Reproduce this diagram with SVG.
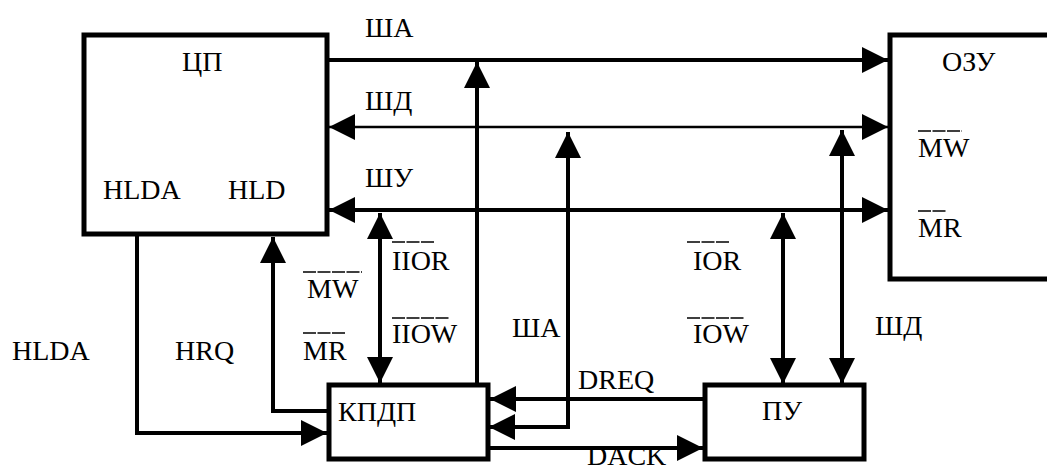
<svg xmlns="http://www.w3.org/2000/svg" width="1047" height="470" viewBox="0 0 1047 470">
<style>
.box{fill:#fff;stroke:#000;stroke-width:5}
.t{font-family:"Liberation Serif","Times New Roman",serif;font-size:28px;fill:#000}
.w{fill:none;stroke:#000;stroke-width:4}
.thin{fill:none;stroke:#000;stroke-width:2.5}
.ov{stroke:#000;stroke-width:1.5;stroke-dasharray:13 1.5}
</style>
<defs>
<marker id="ah" viewBox="0 0 26 26" refX="26" refY="13" markerWidth="26" markerHeight="26" markerUnits="userSpaceOnUse" orient="auto-start-reverse">
<path d="M0,0 L26,13 L0,26 Z" fill="#000"/>
</marker>
</defs>
<rect width="1047" height="470" fill="#fff"/>
<g id="connectors">
<path class="w" d="M329,60 H888" marker-end="url(#ah)"/>
<path class="thin" d="M329,127 H888" marker-start="url(#ah)" marker-end="url(#ah)"/>
<path class="w" d="M329,210 H888" marker-start="url(#ah)" marker-end="url(#ah)"/>
<path class="w" d="M477,385 V62" marker-end="url(#ah)"/>
<path class="w" d="M489,427 H568 V132" marker-start="url(#ah)" marker-end="url(#ah)"/>
<path class="w" d="M705,399 H490" marker-end="url(#ah)"/>
<path class="w" d="M488,448 H703" marker-end="url(#ah)"/>
<path class="w" d="M380,213 V383" marker-start="url(#ah)" marker-end="url(#ah)"/>
<path class="w" d="M783,213 V384" marker-start="url(#ah)" marker-end="url(#ah)"/>
<path class="w" d="M842,130 V384" marker-start="url(#ah)" marker-end="url(#ah)"/>
<path class="w" d="M137,236 V433 H327" marker-end="url(#ah)"/>
<path class="w" d="M329,411 H273 V237" marker-end="url(#ah)"/>
</g>
<g id="cpu">
<rect class="box" x="84" y="35" width="243" height="199"/>
<text class="t" x="182" y="71">ЦП</text>
<text class="t" x="103" y="199">HLDA</text>
<text class="t" x="228" y="199">HLD</text>
</g>
<g id="ozu">
<rect class="box" x="890" y="35" width="180" height="244"/>
<text class="t" x="942" y="71">ОЗУ</text>
<line class="ov" x1="918" y1="131" x2="962" y2="131"/>
<text class="t" x="918" y="157">MW</text>
<line class="ov" x1="918" y1="211" x2="947" y2="211"/>
<text class="t" x="918" y="237">MR</text>
</g>
<g id="kpdp">
<rect class="box" x="329" y="385" width="159" height="74"/>
<text class="t" x="338" y="421">КПДП</text>
</g>
<g id="pu">
<rect class="box" x="705" y="385" width="159" height="74"/>
<text class="t" x="762" y="420">ПУ</text>
</g>
<g id="labels">
<text class="t" x="365" y="37">ША</text>
<text class="t" x="365" y="110">ШД</text>
<text class="t" x="365" y="187">ШУ</text>
<line class="ov" x1="392" y1="242" x2="435" y2="242"/>
<text class="t" x="392" y="270">IIOR</text>
<line class="ov" x1="303" y1="272" x2="362" y2="272"/>
<text class="t" x="307" y="298">MW</text>
<line class="ov" x1="392" y1="318" x2="450" y2="318"/>
<text class="t" x="392" y="343">IIOW</text>
<line class="ov" x1="303" y1="333" x2="345" y2="333"/>
<text class="t" x="303" y="360">MR</text>
<text class="t" x="12" y="360">HLDA</text>
<text class="t" x="175" y="360">HRQ</text>
<line class="ov" x1="687" y1="242" x2="730" y2="242"/>
<text class="t" x="693" y="270">IOR</text>
<line class="ov" x1="687" y1="318" x2="745" y2="318"/>
<text class="t" x="693" y="343">IOW</text>
<text class="t" x="512" y="337">ША</text>
<text class="t" x="875" y="335">ШД</text>
<text class="t" x="578" y="389">DREQ</text>
<text class="t" x="587" y="465" font-size="22">DACK</text>
</g>
</svg>
